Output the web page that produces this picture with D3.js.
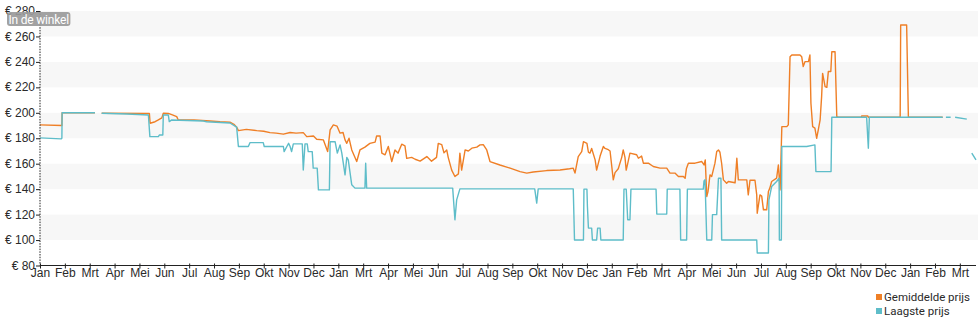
<!DOCTYPE html>
<html><head><meta charset="utf-8">
<script src="https://cdn.jsdelivr.net/npm/d3@7/dist/d3.min.js"></script>
<style>
body{margin:0;background:#fff;}
svg{display:block;font-family:Roboto,"Noto Sans",sans-serif;}
</style></head>
<body><svg id="chart" width="980" height="325"></svg>
<script>
// x values are in months since the first "Jan" tick
const monthLabels = ["Jan","Feb","Mrt","Apr","Mei","Jun","Jul","Aug","Sep","Okt","Nov","Dec",
  "Jan","Mrt","Apr","Mei","Jun","Jul","Aug","Sep","Okt","Nov","Dec",
  "Jan","Feb","Mrt","Apr","Mei","Jun","Jul","Aug","Sep","Okt","Nov","Dec",
  "Jan","Feb","Mrt"];
const yTicks = [80,100,120,140,160,180,200,220,240,260,280];
const seriesNames = ["Gemiddelde prijs","Laagste prijs"];
const seriesColors = ["#ef7f26","#5ebdc9"];

// Gemiddelde prijs  [month, euro]; null = gap
const avgPrice = [
[0,190.5],[0.88,190],[0.89,200],[2.21,200],null,
[2.48,199.7],[4.4,199.5],[4.43,191.8],[4.63,193],[4.76,194.4],[4.9,196],[4.96,199.7],[5.16,199.5],[5.3,198.5],[5.5,197],[5.56,194.4],
[6.2,194.4],[6.84,193.6],[7.24,193],[7.64,192.6],[7.8,191],[7.91,188.7],[7.98,186],[8.3,187],[8.72,186],[9.0,185.5],[9.25,184.4],
[9.5,184],[9.79,183.2],[10.06,184.5],[10.3,184],[10.59,184.4],[10.73,181.3],[11.0,181.8],[11.13,179.2],[11.4,178.7],[11.57,169.5],
[11.67,186.6],[11.8,190.5],[11.95,189.5],[12.07,184],[12.19,184.5],[12.27,178.7],[12.34,176],[12.43,180],[12.54,170.8],[12.74,161.7],
[12.87,170.8],[13.07,173],[13.27,176],[13.48,177],[13.54,181.8],[13.68,181.8],[13.75,168.3],[13.88,167],[14.01,173.5],[14.15,161.7],
[14.28,170.8],[14.4,168.3],[14.55,175.3],[14.68,174],[14.75,164.2],[14.95,165],[15.09,163.5],[15.29,162],[15.56,165.6],[15.75,162],
[15.95,165],[16.02,176],[16.16,175],[16.25,168.5],[16.36,170.8],[16.42,165],[16.56,155],[16.69,149.9],[16.83,152],[16.89,168.3],
[16.96,155],[17.1,170.8],[17.23,170],[17.37,172.2],[17.57,173],[17.7,174.8],[17.83,175],[17.97,170.8],[18.1,161.7],[18.5,159],
[18.91,156.5],[19.31,153.8],[19.58,152.6],[19.84,153.5],[20.38,154.6],[20.92,155],[21.3,156],[21.45,156.5],[21.52,152.6],[21.65,165.6],
[21.79,169.5],[21.86,177.3],[22.0,176],[22.06,169],[22.12,168.3],[22.19,172],[22.33,163],[22.39,155],[22.53,166],[22.66,173.5],
[22.73,172],[22.86,171],[22.93,170],[23.06,147.3],[23.13,153],[23.26,156],[23.4,165],[23.46,170.8],[23.53,165],[23.58,155],[23.64,160],
[23.73,168.3],[24.0,167],[24.07,164.3],[24.2,166],[24.27,160.4],[24.47,160.4],[24.67,157.8],[24.94,156.5],[25.21,156.5],[25.34,152.6],
[25.54,152.6],[25.68,150],[25.88,150],[25.95,148.5],[26.0,156],[26.08,160.4],[26.35,160.4],[26.62,161.7],[26.71,159],[26.76,163],
[26.82,134.2],[26.87,138],[26.95,151.2],[27.02,150],[27.15,160.4],[27.22,169.5],[27.29,170.8],[27.35,169],[27.42,160],[27.49,147.3],
[27.62,144.6],[27.69,146],[27.96,145],[28.03,164.3],[28.09,147.3],[28.43,147.3],[28.49,135.5],[28.56,147],[28.76,147],[28.83,135.5],
[28.85,121.1],[28.96,135.5],[29.03,134.5],[29.1,123.7],[29.16,124],[29.23,123.7],[29.3,138.2],[29.36,141],[29.43,146],[29.63,148.6],
[29.7,159],[29.77,139.4],[29.84,189.1],[30.04,189.1],[30.1,190.5],[30.17,244.1],[30.24,245.4],[30.57,245.4],[30.64,244],[30.7,236.3],
[30.77,240.2],[30.91,240.2],[30.97,245.4],[31.01,207.5],[31.08,189.1],[31.17,188],[31.24,180],[31.31,187],[31.38,194.4],[31.44,212.7],
[31.48,231],[31.58,220.6],[31.65,220],[31.71,232.4],[31.81,232.4],[31.85,248],[31.98,248],[32.05,197],[32.11,196.5],[33.03,196.5],
[33.05,197.5],[33.3,197.5],[33.32,196.5],[34.6,196.5],[34.62,269],[34.86,269],[34.93,196.5],[36.31,196.5]
];

// Laagste prijs  [month, euro]; null = gap
const lowPrice = [
[0,180.3],[0.85,179.5],[0.88,180],[0.89,200],[2.21,200],null,
[2.48,199.7],[3.5,199],[4.36,198.3],[4.42,181.3],[4.76,181.3],[4.8,182.5],[4.94,182.5],[4.96,198.3],[5.16,198.3],[5.2,193.1],[5.3,194.4],
[6.57,193.6],[6.7,193],[7.64,192],[7.91,188.7],[7.98,173.5],[8.38,173.5],[8.45,176.6],[8.98,176.6],[9.02,173.5],[9.79,173.5],
[9.82,169.5],[9.93,173.5],[10.0,176],[10.06,173.5],[10.12,169.5],[10.19,175.6],[10.55,175.6],[10.59,155],[10.66,175.6],[10.75,175.6],
[10.79,169.5],[10.95,169.5],[10.99,156.5],[11.15,156.5],[11.2,139.4],[11.64,139.4],[11.67,177.3],[11.87,177.3],[11.96,168.3],
[12.07,174.8],[12.14,168.3],[12.27,151.2],[12.34,165],[12.4,163],[12.54,143.4],[12.67,140.8],[13.07,140.8],[13.1,160.4],[13.14,140.8],
[16.6,140.8],[16.69,115.9],[16.76,131.6],[16.89,140.2],[19.9,140.2],[19.98,129],[20.04,140.2],[21.45,140.2],[21.5,100],[21.86,100],
[21.88,140],[22.0,140],[22.02,126.3],[22.06,109.4],[22.19,109.4],[22.22,100],[22.39,100],[22.43,109.4],[22.53,109.4],[22.56,100],
[23.46,100],[23.49,140],[23.58,140],[23.64,116],[23.73,116],[23.77,140],[24.78,140],[24.81,120.4],[25.21,120.4],[25.23,140],
[25.74,140],[25.77,100],[26.01,100],[26.04,140],[26.68,140],[26.71,146.5],[26.75,147.3],[26.82,100],[27.02,100],[27.05,120],
[27.22,120],[27.29,148.6],[27.39,148.6],[27.42,100],[28.83,100],[28.85,89.8],[29.3,89.8],[29.32,131.6],[29.43,142],[29.63,146],
[29.73,148.6],[29.74,100],[29.82,100],[29.84,173.5],[30.84,173.5],[31.17,174.8],[31.21,153.8],[31.82,153.8],[31.85,196.5],
[33.25,196.5],[33.32,172.2],[33.36,196.5],[36.31,196.5],null,[36.44,196.5],[36.63,196.5],null,[36.81,196.5],[37.28,195],null,
[37.48,168.3],[37.65,163]
];

const W = 980, H = 325;
const svg = d3.select("#chart");

const x = d3.scaleLinear().domain([0, 37.65]).range([40, 976]);
const y = d3.scaleLinear().domain([80, 280]).range([265.5, 11]);

// alternating bands
const bands = yTicks.slice(0,-1).filter((d,i)=> i%2===1);
svg.append("g").selectAll("rect").data(bands).join("rect")
  .attr("x", 40).attr("width", W-2-40)
  .attr("y", d=>y(d+20)).attr("height", d=>y(d)-y(d+20))
  .attr("fill", "#f7f7f7");

// lines
const line = d3.line().defined(d=>d!==null).x(d=>x(d[0])).y(d=>y(d[1]));
[avgPrice, lowPrice].forEach((data,i)=>{
  svg.append("path").datum(data).attr("d", line)
    .attr("fill","none").attr("stroke", seriesColors[i])
    .attr("stroke-width",1.4).attr("stroke-linejoin","round");
});

// y axis
const yAxis = d3.axisLeft(y).tickValues(yTicks).tickSize(4).tickFormat(d=>"€ "+d);
const gy = svg.append("g").attr("transform","translate(40,0)").call(yAxis);
gy.select(".domain").attr("stroke","#222").attr("stroke-dasharray","1.5,1.2").attr("d","M0,"+y(280)+"V"+y(80));
gy.selectAll(".tick line").attr("stroke","#222");
gy.selectAll(".tick text").attr("font-size",12).attr("fill","#2a2a2a").attr("x",-5).attr("dy","0.3em");

// x axis
const xAxis = d3.axisBottom(x).tickValues(d3.range(monthLabels.length)).tickSize(3)
  .tickFormat(i=>monthLabels[i]);
const gx = svg.append("g").attr("transform","translate(0,"+y(80)+")").call(xAxis);
gx.select(".domain").attr("stroke","#222").attr("d","M40,0H976");
gx.selectAll(".tick line").attr("stroke","#222").attr("y1",-2);
gx.selectAll(".tick text").attr("font-size",12).attr("fill","#2a2a2a").attr("y",3).attr("dy","0.71em");

// "In de winkel" label
const lab = svg.append("g");
const labRect = lab.append("rect").attr("x",7).attr("y",12).attr("height",14).attr("rx",3)
  .attr("fill","#9a9a9a").attr("opacity",0.92);
const labText = lab.append("text").attr("x",8.5).attr("y",23.5).attr("font-size",12)
  .attr("letter-spacing","-0.2").attr("fill","#fff").text("In de winkel");
labRect.attr("width", labText.node().getComputedTextLength() + 3);

// legend
const lg = svg.append("g").attr("transform","translate(876,294)");
seriesNames.forEach((n,i)=>{
  lg.append("rect").attr("x",0).attr("y",i*14).attr("width",6).attr("height",6).attr("fill",seriesColors[i]);
  lg.append("text").attr("x",8).attr("y",i*14+7).attr("font-size",11.5).attr("fill","#2a2a2a").text(n);
});
</script></body></html>
